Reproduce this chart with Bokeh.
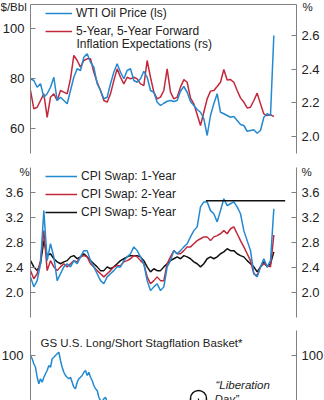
from bokeh.plotting import figure
from bokeh.models import (Range1d, LinearAxis, FixedTicker, PrintfTickFormatter,
                          Legend, LegendItem, Label)
from bokeh.layouts import column
from bokeh.embed import file_html
from bokeh.resources import INLINE

# ---------------- data ----------------
# panel 1 : WTI oil price ($/bbl, left) and 5y5y inflation expectations (%, right)
wti = [79.9, 79.2, 76.5, 77.9, 72.5, 73.9, 76.5, 80.5, 71.2, 72.5,
       71.2, 69.9, 75.2, 80.5, 83.9, 83.2, 88.5, 89.9, 86.5, 84.5,
       77.9, 75.2, 71.9, 72.5, 77.9, 82.5, 85.9, 82.5, 79.9, 83.2,
       83.9, 79.2, 78.5, 79.9, 82.9, 80.5, 75.2, 74.5, 70.5, 69.2,
       70.1, 70.9, 71.2, 70.8, 71.2, 74.9, 76.8, 74.5, 70.8, 69.2,
       67.6, 66.5, 63.9, 57.2, 65.2, 69.9, 73.9, 66.5, 65.9, 65.2,
       64.5, 64.8, 63.2, 61.6, 61.2, 58.9, 59.2, 59.5, 58.1, 59.2,
       64.5, 65.9, 65.2, 97.2]
be5y5y = [2.272, 2.162, 2.172, 2.212, 2.252, 2.112, 2.232, 2.252, 2.212, 2.272,
          2.262, 2.252, 2.341, 2.481, 2.451, 2.411, 2.451, 2.461, 2.461, 2.381,
          2.321, 2.272, 2.212, 2.202, 2.252, 2.331, 2.401, 2.351, 2.311, 2.351,
          2.341, 2.351, 2.341, 2.311, 2.301, 2.451, 2.351, 2.262, 2.222, 2.232,
          2.272, 2.401, 2.262, 2.222, 2.232, 2.292, 2.337, 2.321, 2.226, 2.192,
          2.128, 2.063, 2.142, 2.222, 2.268, 2.272, 2.296, 2.321, 2.397, 2.335,
          2.337, 2.321, 2.272, 2.228, 2.202, 2.168, 2.172, 2.212, 2.256, 2.192,
          2.132, 2.122, 2.128, 2.116]

# panel 2 : CPI swaps (%)
cpi_1y = [2.25, 2.09, 2.19, 2.46, 3.31, 2.51, 2.78, 2.57, 2.19, 2.30,
          2.41, 2.46, 2.41, 2.51, 2.46, 2.57, 2.67, 2.67, 2.51, 2.41,
          2.30, 2.19, 2.14, 2.25, 2.30, 2.35, 2.41, 2.41, 2.51, 2.57,
          2.62, 2.73, 2.67, 2.57, 2.46, 2.19, 2.03, 2.09, 2.14, 2.03,
          2.09, 2.41, 2.51, 2.67, 2.62, 2.67, 2.73, 2.78, 2.89, 2.99,
          3.05, 3.37, 3.45, 3.45, 3.31, 3.26, 3.13, 3.31, 3.50, 3.39,
          3.42, 3.45, 3.37, 3.26, 2.99, 2.83, 2.67, 2.30, 2.25, 2.41,
          2.54, 2.41, 2.51, 3.34]
cpi_2y = [2.35, 2.22, 2.30, 2.51, 2.99, 2.35, 2.51, 2.41, 2.35, 2.41,
          2.46, 2.41, 2.46, 2.51, 2.49, 2.57, 2.59, 2.57, 2.46, 2.41,
          2.35, 2.30, 2.25, 2.30, 2.35, 2.41, 2.43, 2.43, 2.49, 2.51,
          2.54, 2.59, 2.57, 2.51, 2.46, 2.25, 2.14, 2.19, 2.25, 2.19,
          2.19, 2.46, 2.57, 2.67, 2.62, 2.62, 2.67, 2.73, 2.73, 2.78,
          2.83, 2.86, 2.89, 2.89, 2.83, 2.89, 2.91, 2.94, 2.99, 2.94,
          3.02, 3.05, 2.94, 2.83, 2.73, 2.62, 2.51, 2.30, 2.27, 2.41,
          2.46, 2.43, 2.41, 2.92]
cpi_5y = [2.51, 2.41, 2.35, 2.46, 2.83, 2.59, 2.62, 2.54, 2.49, 2.46,
          2.49, 2.51, 2.57, 2.59, 2.54, 2.57, 2.62, 2.57, 2.51, 2.46,
          2.41, 2.35, 2.35, 2.41, 2.38, 2.41, 2.46, 2.51, 2.54, 2.57,
          2.59, 2.59, 2.59, 2.57, 2.51, 2.41, 2.33, 2.38, 2.35, 2.35,
          2.41, 2.46, 2.51, 2.54, 2.57, 2.54, 2.59, 2.57, 2.54, 2.49,
          2.46, 2.41, 2.46, 2.54, 2.57, 2.54, 2.57, 2.62, 2.65, 2.70,
          2.67, 2.67, 2.62, 2.59, 2.57, 2.51, 2.46, 2.41, 2.33, 2.41,
          2.49, 2.41, 2.46, 2.65]
prior_peak_level = 3.47
prior_peak_start = 52.6
prior_peak_end = 76.4

# panel 3 : GS long/short stagflation basket (sampled twice as often)
stagflation = [100.0, 98.7, 96.7, 95.3, 91.3, 88.7, 90.7, 89.3, 91.3, 92.7,
               94.0, 96.0, 95.3, 98.7, 99.3, 100.0, 100.7, 101.3, 98.0, 95.3,
               93.3, 92.0, 91.3, 90.7, 91.3, 89.3, 87.3, 86.7, 89.3, 90.7,
               91.3, 92.0, 93.3, 94.0, 92.0, 93.3, 91.3, 90.0, 88.0, 86.7,
               86.0, 83.3, 82.0, 81.6, 82.7, 83.3, 81.3, 79.3, 78.0, 77.0, 76.0]
liberation_day_t = 50.4
liberation_day_level = 82.8

t_main = list(range(len(wti)))
t_stag = [i * 0.5 for i in range(len(stagflation))]

# axis extents (time index of the two vertical axes)
T_START, T_END = 0.0, 79.8

# ---------------- style ----------------
BLUE = "#2389d0"
RED = "#c3283a"
BLACK = "#111111"
AX = "#808080"
TXT = "#222222"
FONT = "Liberation Sans"
TICK_SIZE = "13px"

# frame = whole canvas; the axes sit at fixed positions inside it
XR = Range1d(-9.0, 88.2)


def make_fig(height, yr):
    p = figure(width=324, height=height, x_range=XR, y_range=yr, min_border=0,
               x_axis_location=None, y_axis_location=None,
               toolbar_location=None, output_backend="svg")
    p.xgrid.visible = False
    p.ygrid.visible = False
    p.outline_line_color = None
    p.background_fill_color = "white"
    p.border_fill_color = "white"
    return p


def add_yaxis(p, side, where, bounds, ticks, fmt, standoff, range_name="default"):
    ax = LinearAxis(y_range_name=range_name, fixed_location=where, bounds=bounds)
    ax.ticker = FixedTicker(ticks=ticks)
    ax.formatter = PrintfTickFormatter(format=fmt)
    ax.major_tick_in = 5
    ax.major_tick_out = 0
    ax.minor_tick_line_color = None
    ax.axis_line_color = AX
    ax.major_tick_line_color = AX
    ax.major_label_text_font = FONT
    ax.major_label_text_font_size = TICK_SIZE
    ax.major_label_text_color = TXT
    ax.major_label_standoff = standoff
    p.add_layout(ax, side)
    return ax


def text(p, x, y, s, size="11.5px", style="normal"):
    p.add_layout(Label(x=x, y=y, x_units="screen", y_units="screen", text=s,
                       text_font=FONT, text_font_size=size, text_color=TXT,
                       text_baseline="middle", text_align="left",
                       text_font_style=style))


def legend(p, items, loc, gw):
    lg = Legend(items=items, location=loc, glyph_width=gw, glyph_height=14,
                label_height=14, spacing=4, padding=0, margin=0,
                label_standoff=4, background_fill_alpha=0,
                border_line_alpha=0, label_text_font=FONT,
                label_text_font_size="12px", label_text_color=TXT)
    p.add_layout(lg)


# ---------------- panel 1 ----------------
p1 = make_fig(160, Range1d(47.2, 111.2))
p1.extra_y_ranges = {"pct": Range1d(1.854, 2.809)}
add_yaxis(p1, "left", T_START, (50, 109.6), [60, 80, 100], "%d", 6)
add_yaxis(p1, "right", T_END, (1.896, 2.785), [2.0, 2.2, 2.4, 2.6], "%.1f", 5,
          range_name="pct")
top_line = LinearAxis(ticker=FixedTicker(ticks=[]), fixed_location=109.6,
                      bounds=(T_START, T_END), axis_line_color=AX,
                      major_tick_line_color=None, minor_tick_line_color=None)
p1.add_layout(top_line, "above")

r_be = p1.line(t_main, be5y5y, y_range_name="pct", line_color=RED, line_width=1.5)
r_wti = p1.line(t_main, wti, line_color=BLUE, line_width=1.5)
legend(p1, [LegendItem(label="WTI Oil Price (ls)", renderers=[r_wti]),
            LegendItem(label="5-Year, 5-Year Forward", renderers=[r_be])],
       (45, 122), 27)
text(p1, 76, 117, "Inflation Expectations (rs)", size="12px")
text(p1, 0, 153.5, "$/Bbl")
text(p1, 302, 153.5, "%")

# ---------------- panel 2 ----------------
p2 = make_fig(162, Range1d(1.52, 4.112))
add_yaxis(p2, "left", T_START, (1.6, 4.0), [2.0, 2.4, 2.8, 3.2, 3.6], "%.1f", 7)
add_yaxis(p2, "right", T_END, (1.6, 4.0), [2.0, 2.4, 2.8, 3.2, 3.6], "%.1f", 5)

r5 = p2.line(t_main, cpi_5y, line_color=BLACK, line_width=1.5)
r2 = p2.line(t_main, cpi_2y, line_color=RED, line_width=1.5)
r1 = p2.line(t_main, cpi_1y, line_color=BLUE, line_width=1.5)
p2.line([prior_peak_start, prior_peak_end], [prior_peak_level, prior_peak_level],
        line_color=BLACK, line_width=1.5)
legend(p2, [LegendItem(label="CPI Swap: 1-Year", renderers=[r1]),
            LegendItem(label="CPI Swap: 2-Year", renderers=[r2]),
            LegendItem(label="CPI Swap: 5-Year", renderers=[r5])],
       (45, 103), 32)
text(p2, 19, 151, "%")
text(p2, 301, 151, "%")

# ---------------- panel 3 ----------------
p3 = make_fig(78, Range1d(82.0, 113.2))
add_yaxis(p3, "left", T_START, (82, 110), [80, 100], "%d", 7)
add_yaxis(p3, "right", T_END, (82, 110), [80, 100], "%d", 5)
p3.line(t_stag, stagflation, line_color=BLUE, line_width=1.5)
p3.scatter([liberation_day_t], [liberation_day_level], marker="circle", size=16,
           fill_color=None, line_color=BLACK, line_width=1.5)
p3.segment([liberation_day_t], [liberation_day_level], [liberation_day_t],
           [liberation_day_level - 2], line_color=BLACK, line_width=1.2)
text(p3, 40, 58, "GS U.S. Long/Short Stagflation Basket*")
text(p3, 215, 16, "\u201cLiberation", size="11.5px", style="italic")
text(p3, 214, 2, "Day\u201d", size="11.5px", style="italic")

layout = column(p1, p2, p3, spacing=0)
open("out.html", "w").write(file_html(layout, INLINE))
